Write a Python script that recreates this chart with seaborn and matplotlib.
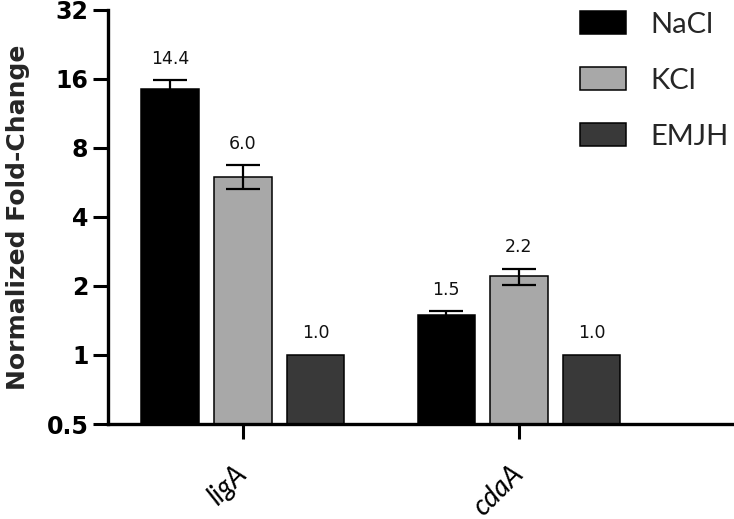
import numpy as np
import pandas as pd
import seaborn as sns
import matplotlib
matplotlib.use('Agg')
import matplotlib.pyplot as plt
from matplotlib.patches import Patch
from matplotlib.ticker import FixedLocator, FixedFormatter, NullLocator

genes = ['ligA', 'cdaA']
conditions = ['NaCl', 'KCl', 'EMJH']
nacl = [14.4, 1.5]
kcl = [6.0, 2.2]
emjh = [1.0, 1.0]
nacl_err = [1.4, 0.05]
kcl_err = [0.72, 0.18]
emjh_err = [0.0, 0.0]
colors = ['#000000', '#a8a8a8', '#393939']
yticks = [0.5, 1, 2, 4, 8, 16, 32]
ytick_labels = ['0.5', '1', '2', '4', '8', '16', '32']

df = pd.DataFrame({
    'gene': genes * 3,
    'condition': [c for c in conditions for _ in genes],
    'value': nacl + kcl + emjh,
})
errs = [nacl_err, kcl_err, emjh_err]

sns.set_theme(style='ticks')
plt.rcParams['font.family'] = ['Lato', 'DejaVu Sans']

fig = plt.figure(figsize=(7.34, 5.19), dpi=100)
ax = fig.add_axes([0.147, 0.183, 0.853, 0.798])

sns.barplot(data=df, x='gene', y='value', hue='condition', order=genes,
            hue_order=conditions, palette=colors, errorbar=None,
            width=0.79, gap=0.21, edgecolor='black', linewidth=1.1,
            saturation=1, ax=ax, legend=False)

ax.set_yscale('log', base=2)
ax.set_ylim(0.5, 32)
ax.set_xlim(-0.489, 1.779)

# error bars and value labels on top of each bar
bar_conts = list(ax.containers)
for i, cont in enumerate(bar_conts):
    for j, bar in enumerate(cont.patches):
        xc = bar.get_x() + bar.get_width() / 2
        h = bar.get_height()
        e = errs[i][j]
        if e > 0:
            ax.errorbar(xc, h, yerr=e, fmt='none', ecolor='black',
                        elinewidth=1.6, capsize=12, capthick=1.6, zorder=3)
        ax.annotate(f'{h:.1f}', (xc, h + e), xytext=(0, 9),
                    textcoords='offset points', ha='center', va='bottom',
                    fontsize=12.5, family='DejaVu Sans', color='#111111')

ax.yaxis.set_major_locator(FixedLocator(yticks))
ax.yaxis.set_major_formatter(FixedFormatter(ytick_labels))
ax.yaxis.set_minor_locator(NullLocator())
for lab in ax.get_yticklabels():
    lab.set_family('DejaVu Sans')
    lab.set_fontweight('bold')
    lab.set_fontsize(17)

ax.set_xticks([0, 1])
ax.set_xticklabels(genes, rotation=45, ha='right', va='center',
                   rotation_mode='anchor', fontsize=20, fontstyle='italic')
ax.set_xlabel('')
ax.set_ylabel('Normalized Fold-Change', fontsize=18, fontweight='bold',
              family='DejaVu Sans', labelpad=12)

ax.tick_params(axis='both', width=2.2, length=11, color='black',
               labelcolor='black')
ax.tick_params(axis='x', pad=22)
ax.tick_params(axis='y', pad=3)
for s in ['left', 'bottom']:
    ax.spines[s].set_linewidth(2.4)
    ax.spines[s].set_color('black')
sns.despine(ax=ax)

handles = [Patch(facecolor=c, edgecolor='black', linewidth=1.1) for c in colors]
ax.legend(handles, conditions, loc='upper right', bbox_to_anchor=(1.01, 1.025),
          frameon=False, fontsize=21, handlelength=1.55, handleheight=0.85,
          handletextpad=0.85, labelspacing=1.0, borderaxespad=0)

plt.savefig('out.png', dpi=100)
